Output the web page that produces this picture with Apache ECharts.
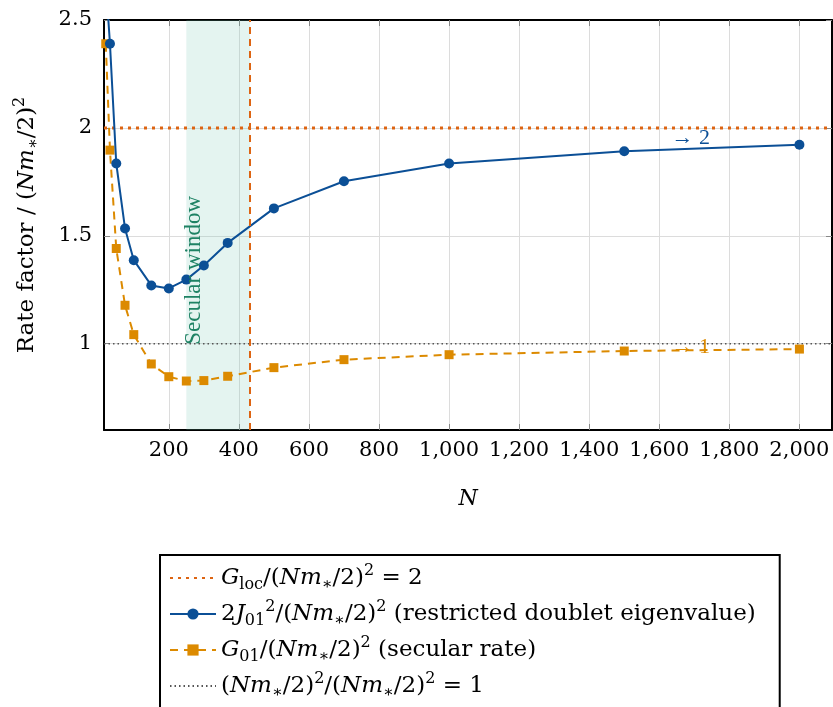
<!DOCTYPE html>
<html>
<head>
<meta charset="utf-8">
<script src="https://cdn.jsdelivr.net/npm/echarts@6/dist/echarts.min.js"></script>
<style>
  html, body { margin: 0; padding: 0; background: #fff; }
  #main { width: 833px; height: 707px; }
</style>
</head>
<body>
<div id="main"></div>
<script>
// data
var nValues = [20, 32, 50, 75, 100, 150, 200, 250, 300, 368, 500, 700, 1000, 1500, 2000];
var doubletRate = [2.68, 2.39, 1.835, 1.534, 1.387, 1.270, 1.256, 1.297, 1.362, 1.467, 1.627, 1.753, 1.835, 1.892, 1.922];
var secularRate = [2.39, 1.897, 1.441, 1.178, 1.042, 0.906, 0.847, 0.827, 0.829, 0.849, 0.889, 0.926, 0.949, 0.966, 0.975];
var locLevel = 2;
var unitLevel = 1;
var secularWindow = [250, 432];
var xRange = [15, 2093];
var yRange = [0.6, 2.5];
var xTicks = [200, 400, 600, 800, 1000, 1200, 1400, 1600, 1800, 2000];
var yTicks = [1, 1.5, 2, 2.5];
var limitLabels = [[1690, 1.953, '\u2192 2'], [1690, 0.985, '\u2192 1']];

var FONT = '"DejaVu Serif", serif';
var FONT2 = '"Liberation Serif", serif';
var BLUE = '#0b4f96';
var ORANGE = '#dc8a00';
var RED = '#dd6412';
var GREEN = '#1e8264';

function pair(arrX, arrY) {
  return arrX.map(function (x, i) { return [x, arrY[i]]; });
}

// rich text pieces for the math labels
function rich(size) {
  var small = Math.round(size * 0.68);
  return {
    r: { fontFamily: FONT, fontSize: size, lineHeight: 30, color: '#000' },
    i: { fontFamily: FONT, fontSize: size, lineHeight: 30, fontStyle: 'italic', color: '#000' },
    sb: { fontFamily: FONT, fontSize: small, lineHeight: 20, verticalAlign: 'bottom', color: '#000' },
    sp: { fontFamily: FONT, fontSize: small, lineHeight: 18, verticalAlign: 'top', color: '#000' }
  };
}
var NM = '{r|(}{i|Nm}{sb|\u2217}{r|/2)}{sp|2}';
var legendText = {
  loc: '{i|G}{sb|loc}{r|/}' + NM + '{r| = 2}',
  doublet: '{r|2}{i|J}{sb|01}{sp|2}{r|/}' + NM + '{r| (restricted doublet eigenvalue)}',
  secular: '{i|G}{sb|01}{r|/}' + NM + '{r| (secular rate)}',
  unit: NM + '{r|/}' + NM + '{r| = 1}'
};

var chart = echarts.init(document.getElementById('main'));
chart.setOption({
  animation: false,
  textStyle: { fontFamily: FONT },
  grid: { left: 104, right: 1, top: 20, bottom: 277, show: false },
  legend: {
    orient: 'vertical',
    left: 160, top: 555, height: 400,
    padding: [8, 24, 10, 9],
    borderColor: '#000', borderWidth: 2,
    itemWidth: 46, itemHeight: 14, itemGap: 6,
    data: [
      { name: 'loc', itemStyle: { opacity: 0 } },
      'doublet', 'secular',
      { name: 'unit', itemStyle: { opacity: 0 } }
    ],
    formatter: function (name) { return legendText[name]; },
    textStyle: { fontFamily: FONT, fontSize: 23, rich: rich(23) }
  },
  xAxis: [{
    type: 'value', min: xRange[0], max: xRange[1],
    name: 'N', nameLocation: 'middle', nameGap: 58,
    nameTextStyle: { fontFamily: FONT, fontSize: 22, fontStyle: 'italic', color: '#000' },
    axisLine: { lineStyle: { color: '#000', width: 2 } },
    axisTick: { inside: true, length: 6, lineStyle: { color: '#888' }, customValues: xTicks },
    axisLabel: { customValues: xTicks, margin: 10, fontFamily: FONT, fontSize: 21, color: '#000',
      formatter: function (v) { return v.toLocaleString('en-US'); } },
    splitLine: { show: true, lineStyle: { color: '#dcdcdc', width: 1 } }
  }, {
    type: 'value', position: 'top', min: xRange[0], max: xRange[1],
    axisLine: { lineStyle: { color: '#000', width: 2 } },
    axisTick: { inside: true, length: 6, lineStyle: { color: '#888' }, customValues: xTicks },
    axisLabel: { show: false },
    splitLine: { show: false }
  }],
  yAxis: [{
    type: 'value', min: yRange[0], max: yRange[1],
    name: '{r|Rate factor / }' + NM, nameLocation: 'middle', nameRotate: 90, nameGap: 62,
    nameTextStyle: { fontFamily: FONT, fontSize: 23, color: '#000', rich: rich(23) },
    axisLine: { show: true, lineStyle: { color: '#000', width: 2 } },
    axisTick: { show: true, inside: true, length: 6, lineStyle: { color: '#888' }, customValues: yTicks },
    axisLabel: { customValues: yTicks, margin: 12, fontFamily: FONT, fontSize: 21, color: '#000' },
    splitLine: { show: true, lineStyle: { color: '#dcdcdc', width: 1 } }
  }, {
    type: 'value', position: 'right', min: yRange[0], max: yRange[1],
    axisLine: { show: true, lineStyle: { color: '#000', width: 2 } },
    axisTick: { show: true, inside: true, length: 6, lineStyle: { color: '#888' }, customValues: yTicks },
    axisLabel: { show: false },
    splitLine: { show: false }
  }],
  series: [{
    name: 'loc', type: 'line', symbol: 'none',
    data: [[xRange[0], locLevel], [xRange[1], locLevel]],
    lineStyle: { color: RED, width: 3, type: [3, 5] },
    itemStyle: { color: RED },
    markArea: {
      silent: true,
      itemStyle: { color: 'rgba(120,200,180,0.2)' },
      data: [[{ xAxis: secularWindow[0] }, { xAxis: secularWindow[1] }]]
    },
    markLine: {
      silent: true, symbol: 'none', label: { show: false },
      lineStyle: { color: RED, width: 2, type: [7, 5] },
      data: [{ xAxis: secularWindow[1] }]
    },
    markPoint: {
      symbol: 'circle', symbolSize: 0,
      label: {
        show: true, position: 'inside', rotate: 90, align: 'left', verticalAlign: 'middle',
        fontFamily: FONT2, fontSize: 23, color: GREEN, formatter: 'Secular window'
      },
      data: [{ coord: [272, 0.995] }]
    },
    z: 1
  }, {
    name: 'unit', type: 'line', symbol: 'none',
    data: [[xRange[0], unitLevel], [xRange[1], unitLevel]],
    lineStyle: { color: '#555', width: 1.5, type: [1.5, 3] },
    itemStyle: { color: '#555' },
    z: 1
  }, {
    name: 'doublet', type: 'line',
    data: pair(nValues, doubletRate),
    symbol: 'circle', symbolSize: 10, showAllSymbol: true,
    lineStyle: { color: BLUE, width: 2 },
    itemStyle: { color: BLUE },
    markPoint: {
      symbol: 'circle', symbolSize: 0,
      label: { show: true, position: 'inside', fontFamily: FONT2, fontSize: 22, color: BLUE, formatter: '{c}' },
      data: [{ coord: [limitLabels[0][0], limitLabels[0][1]], value: limitLabels[0][2] }]
    },
    z: 3
  }, {
    name: 'secular', type: 'line',
    data: pair(nValues, secularRate),
    symbol: 'rect', symbolSize: 9, showAllSymbol: true,
    lineStyle: { color: ORANGE, width: 2, type: [8, 6] },
    itemStyle: { color: ORANGE },
    markPoint: {
      symbol: 'circle', symbolSize: 0,
      label: { show: true, position: 'inside', fontFamily: FONT2, fontSize: 22, color: ORANGE, formatter: '{c}' },
      data: [{ coord: [limitLabels[1][0], limitLabels[1][1]], value: limitLabels[1][2] }]
    },
    z: 2
  }]
});
</script>
</body>
</html>
